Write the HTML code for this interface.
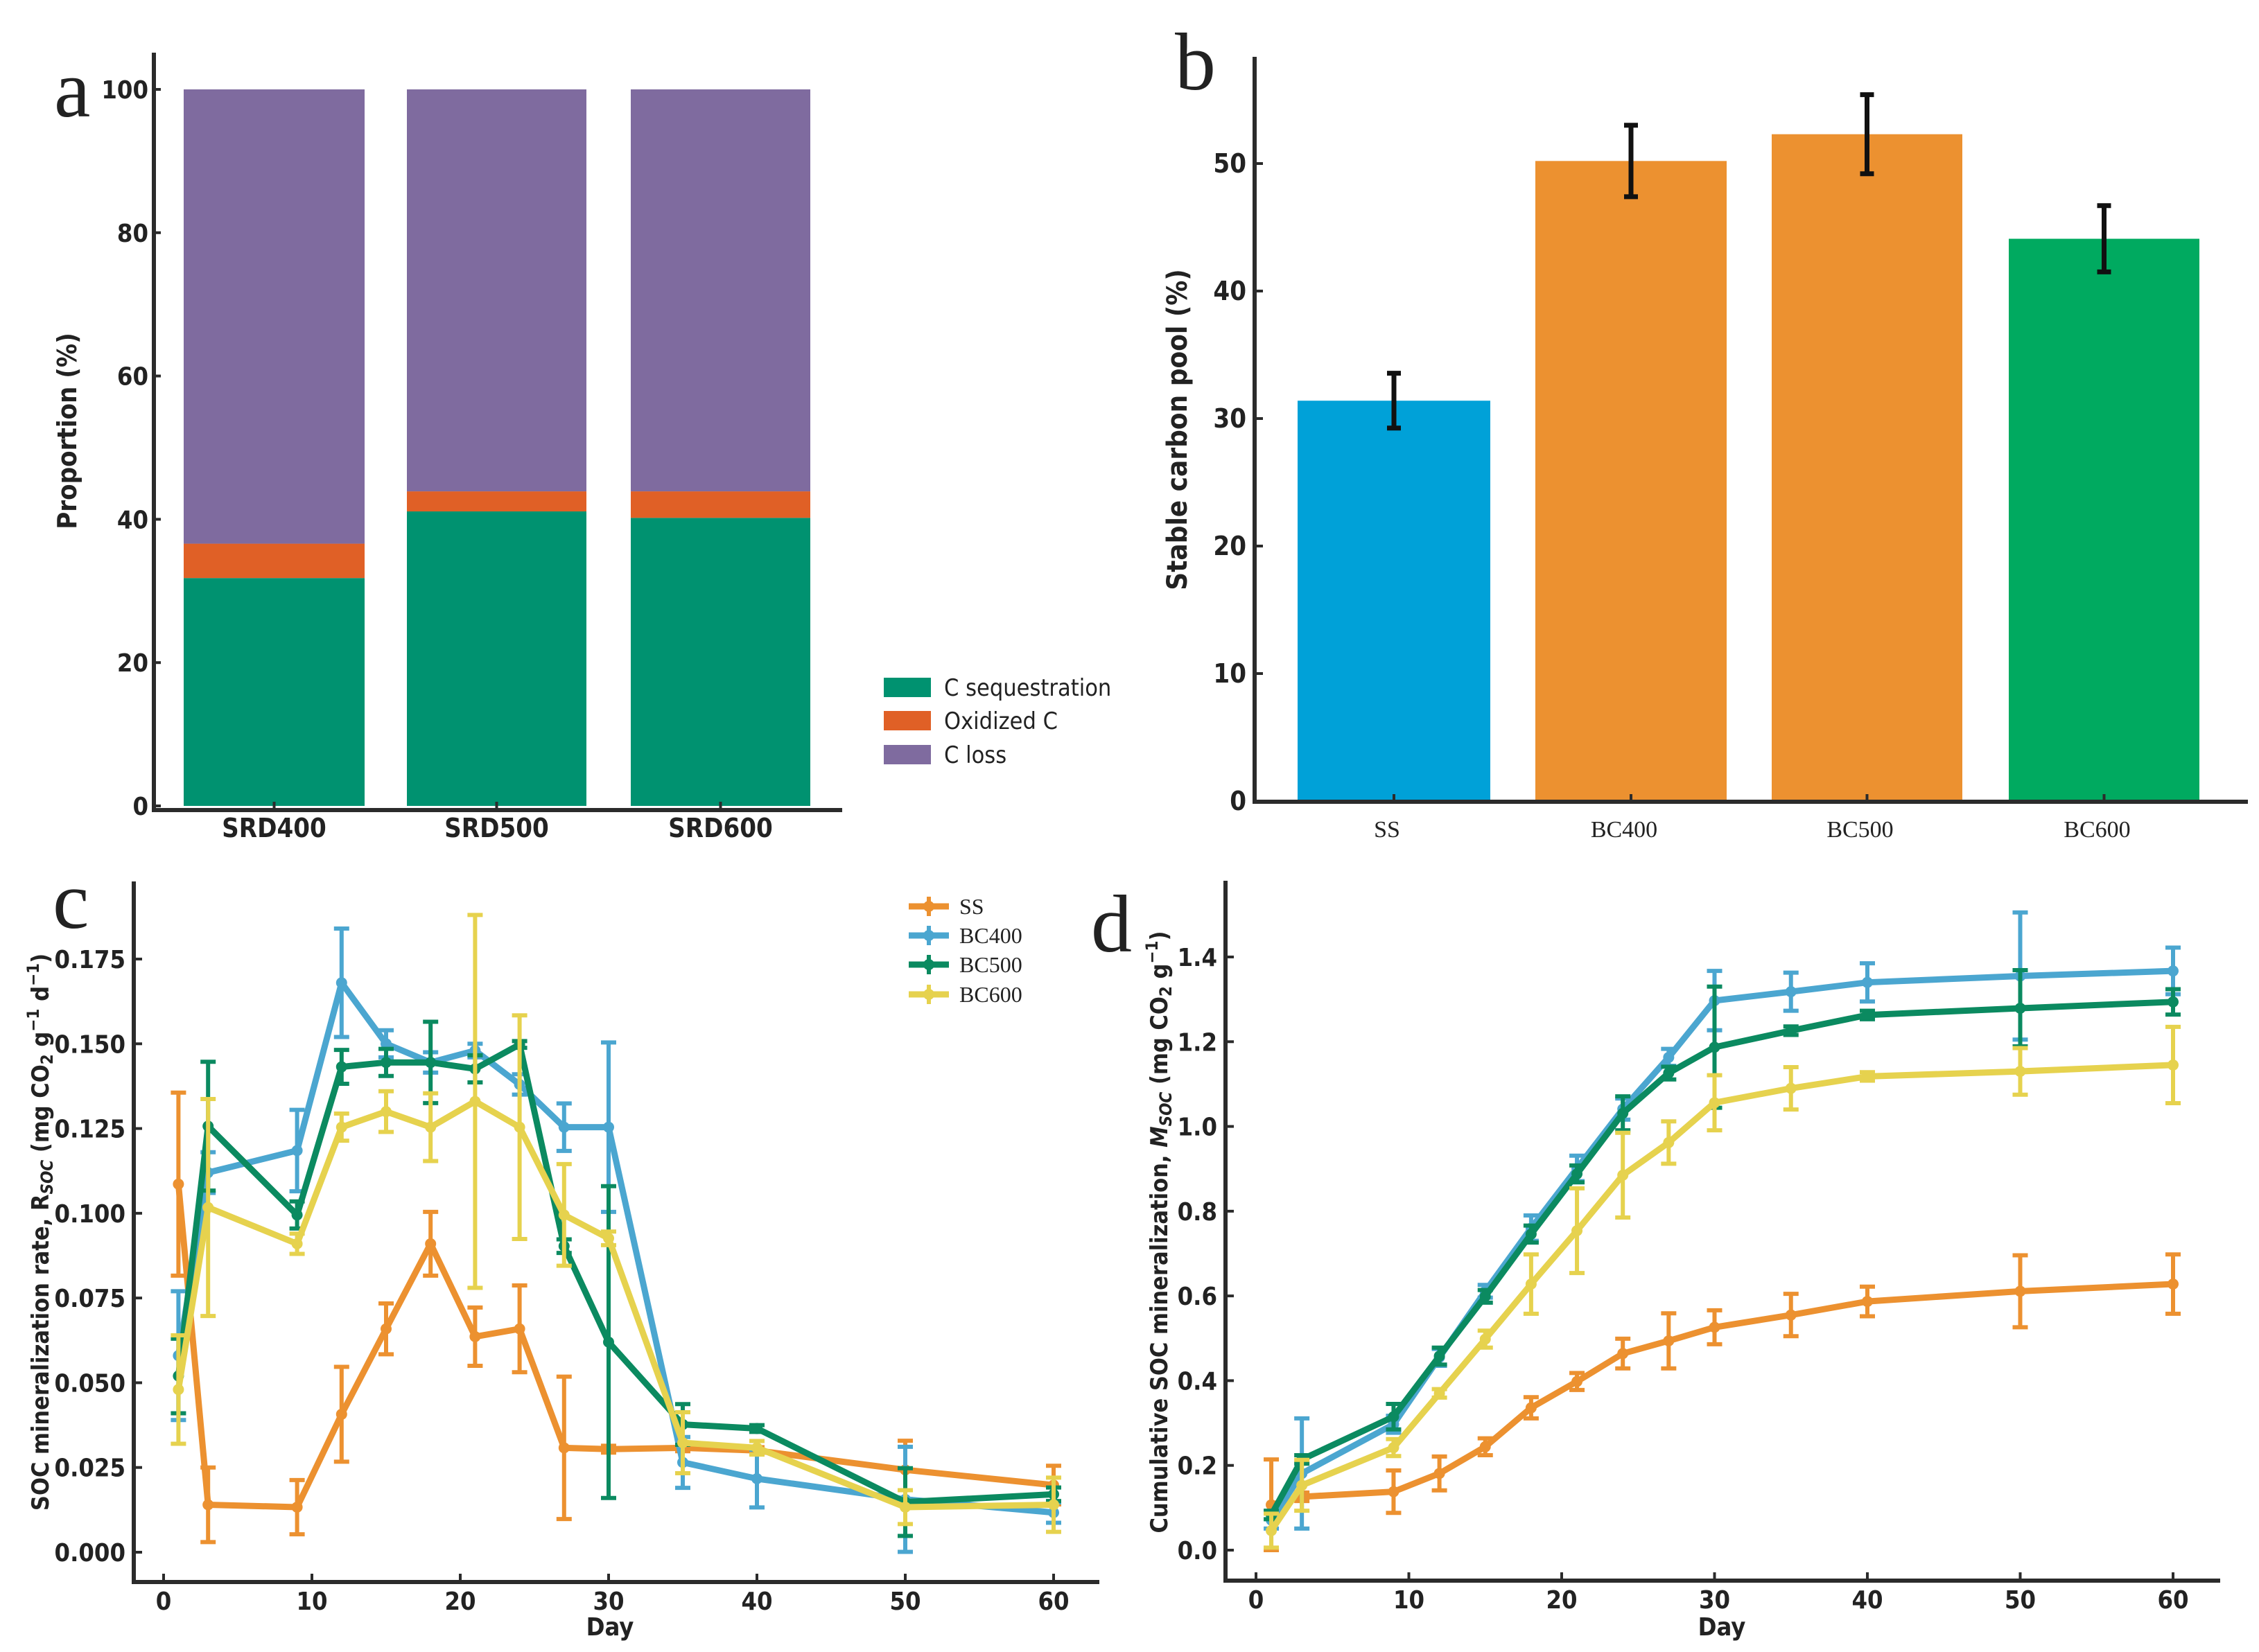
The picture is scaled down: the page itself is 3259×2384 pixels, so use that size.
<!DOCTYPE html>
<html><head><meta charset="utf-8">
<style>
html,body{margin:0;padding:0;background:#fff;}
svg{display:block;}
text{font-family:"DejaVu Sans Condensed","Liberation Sans Narrow","DejaVu Sans","Liberation Sans",sans-serif;fill:#222;}
.serif{font-family:"Liberation Serif",serif;}
</style></head>
<body>
<svg id="fig" width="3259" height="2384" viewBox="0 0 3259 2384" xmlns="http://www.w3.org/2000/svg"></svg>
<script>
// Panel a data
const aCats = ["SRD400","SRD500","SRD600"];
const aSeq = [31.8, 41.1, 40.2];
const aOx = [4.8, 2.8, 3.7];
const aLoss = [63.4, 56.1, 56.1];
const aTicks = [0,20,40,60,80,100];
// Panel b data
const bCats = ["SS","BC400","BC500","BC600"];
const bVals = [31.4, 50.2, 52.3, 44.1];
const bErr = [2.15, 2.8, 3.1, 2.6];
const bTicks = [0,10,20,30,40,50];
// Panel c/d shared days
const days = [1,3,9,12,15,18,21,24,27,30,35,40,50,60];
const xTicks = [0,10,20,30,40,50,60];
// Panel c
const cSS = [0.1086,0.014,0.0133,0.0407,0.0659,0.091,0.0636,0.0659,0.0308,0.0304,0.0308,0.030,0.0243,0.0198];
const cSSe = [0.027,0.011,0.008,0.014,0.0075,0.0094,0.0086,0.0128,0.021,0.001,0.001,0.001,0.0086,0.0057];
const cB4 = [0.058,0.112,0.1185,0.168,0.150,0.1445,0.148,0.138,0.1254,0.1254,0.0265,0.0217,0.0156,0.0117];
const cB4e = [0.019,0.006,0.012,0.016,0.004,0.003,0.002,0.003,0.007,0.025,0.0075,0.0085,0.0155,0.003];
const cB5 = [0.052,0.1257,0.0995,0.1432,0.1445,0.1445,0.1426,0.1498,0.0903,0.062,0.0377,0.0365,0.0148,0.0171];
const cB5e = [0.011,0.019,0.004,0.005,0.004,0.012,0.004,0.001,0.002,0.046,0.006,0.001,0.010,0.002];
const cB6 = [0.048,0.1017,0.091,0.1254,0.130,0.1254,0.133,0.1254,0.0995,0.0926,0.0323,0.0308,0.0133,0.014];
const cB6e = [0.016,0.032,0.003,0.004,0.006,0.010,0.055,0.033,0.015,0.002,0.009,0.002,0.005,0.008];
const cTicks = [0,0.025,0.05,0.075,0.1,0.125,0.15,0.175];
const cTickLabels = ["0.000","0.025","0.050","0.075","0.100","0.125","0.150","0.175"];
// Panel d
const dSS = [0.107,0.126,0.138,0.181,0.244,0.336,0.398,0.464,0.494,0.526,0.555,0.587,0.611,0.628];
const dSSe = [0.107,0.01,0.05,0.04,0.02,0.025,0.02,0.035,0.065,0.04,0.05,0.035,0.085,0.07];
const dB4 = [0.071,0.181,0.297,0.455,0.611,0.760,0.901,1.041,1.163,1.297,1.318,1.340,1.355,1.367];
const dB4e = [0.02,0.13,0.02,0.02,0.015,0.03,0.03,0.025,0.02,0.07,0.045,0.045,0.15,0.055];
const dB5 = [0.083,0.214,0.315,0.458,0.599,0.746,0.888,1.031,1.126,1.187,1.226,1.263,1.279,1.294];
const dB5e = [0.01,0.01,0.03,0.02,0.015,0.02,0.02,0.04,0.015,0.143,0.01,0.01,0.09,0.03];
const dB6 = [0.046,0.153,0.242,0.370,0.498,0.628,0.754,0.885,0.962,1.056,1.090,1.118,1.130,1.145];
const dB6e = [0.04,0.06,0.02,0.01,0.02,0.07,0.1,0.1,0.05,0.065,0.05,0.01,0.055,0.09];
const dTicks = [0,0.2,0.4,0.6,0.8,1.0,1.2,1.4];
const dTickLabels = ["0.0","0.2","0.4","0.6","0.8","1.0","1.2","1.4"];

const NS="http://www.w3.org/2000/svg";
const svg=document.getElementById('fig');
function mk(tag,attrs,parent,txt){const e=document.createElementNS(NS,tag);for(const k in attrs)e.setAttribute(k,attrs[k]);if(txt!==undefined)e.textContent=txt;(parent||svg).appendChild(e);return e;}
function grp(name){const g=mk('g',{});return g;}
function lin(d0,d1,r0,r1){return v=>r0+(v-d0)/(d1-d0)*(r1-r0);}
const AX='#2b2b2b';

// ---------- Panel a ----------
(function(){
  const g=grp('panel-a');
  const y=lin(0,100,1163,129);
  const xs=[[265,526],[587,846],[910,1169]];
  const cols=['#009270','#e06026','#7f6b9f'];
  aCats.forEach((c,i)=>{
    const [x0,x1]=xs[i];
    const segs=[aSeq[i],aOx[i],aLoss[i]];let base=0;
    segs.forEach((v,j)=>{
      const r=mk('rect',{x:x0,y:y(base+v),width:x1-x0,height:y(base)-y(base+v),fill:cols[j]},g);
      
      
      base+=v;
    });
    mk('line',{x1:(x0+x1)/2,x2:(x0+x1)/2,y1:1169,y2:1157,stroke:AX,'stroke-width':4},g);
    const t=mk('text',{x:(x0+x1)/2,y:1208,'font-size':38,'text-anchor':'middle','font-weight':'bold'},g,c);
    
  });
  aTicks.forEach(v=>{
    mk('line',{x1:222,x2:232,y1:y(v),y2:y(v),stroke:AX,'stroke-width':4},g);
    const t=mk('text',{x:214,y:y(v)+13,'font-size':36,'text-anchor':'end','font-weight':'bold'},g,v);
    
  });
  mk('line',{x1:222,x2:222,y1:76,y2:1172,stroke:AX,'stroke-width':6},g);
  mk('line',{x1:219,x2:1215,y1:1169,y2:1169,stroke:AX,'stroke-width':6},g);
  const yl=mk('text',{x:0,y:0,transform:'translate(110,622) rotate(-90)','font-size':38,'text-anchor':'middle','font-weight':'bold'},g,'Proportion (%)');
  
  const lab=mk('text',{x:78,y:168,'font-size':118,'class':'serif','fill':'#111'},g,'a');
  
  const names=['C sequestration','Oxidized C','C loss'];
  names.forEach((n,i)=>{
    const ly=[992,1040,1089][i];
    const r=mk('rect',{x:1275,y:ly-14,width:68,height:28,fill:cols[i]},g);
    
    const t=mk('text',{x:1362,y:ly+12,'font-size':34,fill:'#444'},g,n);
    
  });
})();

// ---------- Panel b ----------
(function(){
  const g=grp('panel-b');
  const y=lin(0,50,1156,236);
  const xs=[[1872,2150],[2215,2491],[2556,2831],[2898,3173]];
  const cols=['#00a1d8','#ec9130','#ec9130','#00aa60'];
  bCats.forEach((c,i)=>{
    const [x0,x1]=xs[i];const cx=(x0+x1)/2;
    const r=mk('rect',{x:x0,y:y(bVals[i]),width:x1-x0,height:y(0)-y(bVals[i]),fill:cols[i]},g);
    
    const e=mk('path',{d:`M${cx} ${y(bVals[i]+bErr[i])}V${y(bVals[i]-bErr[i])}M${cx-10} ${y(bVals[i]+bErr[i])}h20M${cx-10} ${y(bVals[i]-bErr[i])}h20`,stroke:'#111','stroke-width':7,fill:'none'},g);
    
    mk('line',{x1:cx,x2:cx,y1:1159,y2:1146,stroke:AX,'stroke-width':4},g);
    const t=mk('text',{x:cx-10,y:1208,'font-size':34,'text-anchor':'middle','class':'serif'},g,c);
    
  });
  bTicks.forEach(v=>{
    mk('line',{x1:1810,x2:1822,y1:y(v),y2:y(v),stroke:AX,'stroke-width':4},g);
    const t=mk('text',{x:1798,y:y(v)+13,'font-size':38,'text-anchor':'end','font-weight':'bold'},g,v);
    
  });
  mk('line',{x1:1810,x2:1810,y1:82,y2:1160,stroke:AX,'stroke-width':6},g);
  mk('line',{x1:1807,x2:3243,y1:1157,y2:1157,stroke:AX,'stroke-width':6},g);
  const yl=mk('text',{x:0,y:0,transform:'translate(1712,620) rotate(-90)','font-size':40,'text-anchor':'middle','font-weight':'bold'},g,'Stable carbon pool (%)');
  
  const lab=mk('text',{x:1695,y:129,'font-size':118,'class':'serif','fill':'#111'},g,'b');
  
})();

// ---------- Line panels ----------
const sCols=['#ec9130','#4ba6d0','#0b8a60','#e6d24e'];
function linePanel(name,opt,series,errs,ticks,tickLabels){
  const g=grp(name);
  const x=lin(0,60,opt.x0,opt.x60);
  const y=lin(ticks[0],ticks[ticks.length-1],opt.y0,opt.yTop);
  xTicks.forEach(v=>{
    mk('line',{x1:x(v),x2:x(v),y1:opt.axY,y2:opt.axY-12,stroke:AX,'stroke-width':4},g);
    const t=mk('text',{x:x(v),y:opt.axY+40,'font-size':36,'text-anchor':'middle','font-weight':'bold'},g,v);
    
  });
  ticks.forEach((v,i)=>{
    mk('line',{x1:opt.axX,x2:opt.axX+12,y1:y(v),y2:y(v),stroke:AX,'stroke-width':4},g);
    const t=mk('text',{x:opt.axX-12,y:y(v)+13,'font-size':36,'text-anchor':'end','font-weight':'bold'},g,tickLabels[i]);
    
  });
  const sNames=['ss','bc400','bc500','bc600'];
  series.forEach((s,k)=>{
    const sg=mk('g',{},g);
    
    let d='';
    s.forEach((v,i)=>{
      const cx=x(days[i]),hi=y(v+errs[k][i]),lo=y(v-errs[k][i]);
      const e=mk('path',{d:`M${cx} ${hi}V${lo}M${cx-11} ${hi}h22M${cx-11} ${lo}h22`,stroke:sCols[k],'stroke-width':6,fill:'none'},sg);
      
    });
    s.forEach((v,i)=>{d+=(i?'L':'M')+x(days[i])+' '+y(v);});
    const p=mk('path',{d:d,stroke:sCols[k],'stroke-width':9,fill:'none','stroke-linejoin':'round'},sg);
    
    s.forEach((v,i)=>{
      const c=mk('circle',{cx:x(days[i]),cy:y(v),r:8,fill:sCols[k]},sg);
      
    });
  });
  mk('line',{x1:opt.axX,x2:opt.axX,y1:opt.axTop,y2:opt.axY+3,stroke:AX,'stroke-width':6},g);
  mk('line',{x1:opt.axX-3,x2:opt.axR,y1:opt.axY,y2:opt.axY,stroke:AX,'stroke-width':6},g);
  const xl=mk('text',{x:opt.dayX,y:2360,'font-size':36,'text-anchor':'middle','font-weight':'bold'},g,'Day');
  
  return g;
}
const gc=linePanel('panel-c',{x0:236,x60:1520,y0:2240,yTop:1384,axX:193,axY:2283,axR:1586,axTop:1272,dayX:880},[cSS,cB4,cB5,cB6],[cSSe,cB4e,cB5e,cB6e],cTicks,cTickLabels);
const gd=linePanel('panel-d',{x0:1812,x60:3135,y0:2237,yTop:1381,axX:1768,axY:2281,axR:3203,axTop:1271,dayX:2484},[dSS,dB4,dB5,dB6],[dSSe,dB4e,dB5e,dB6e],dTicks,dTickLabels);
(function(){
  const yl=mk('text',{x:0,y:0,transform:'translate(70,1778) rotate(-90)','font-size':34,'text-anchor':'middle','font-weight':'bold'},gc);
  
  yl.innerHTML='SOC mineralization rate, R<tspan font-size="24" font-style="italic" dy="6">SOC</tspan><tspan dy="-6"> (mg CO</tspan><tspan font-size="24" dy="6">2</tspan><tspan dy="-6"> g</tspan><tspan font-size="24" dy="-14">−1</tspan><tspan dy="14"> d</tspan><tspan font-size="24" dy="-14">−1</tspan><tspan dy="14">)</tspan>';
  const yl2=mk('text',{x:0,y:0,transform:'translate(1684,1778) rotate(-90)','font-size':34,'text-anchor':'middle','font-weight':'bold'},gd);
  
  yl2.innerHTML='Cumulative SOC mineralization, <tspan font-style="italic">M</tspan><tspan font-size="24" font-style="italic" dy="6">SOC</tspan><tspan dy="-6"> (mg CO</tspan><tspan font-size="24" dy="6">2</tspan><tspan dy="-6"> g</tspan><tspan font-size="24" dy="-14">−1</tspan><tspan dy="14">)</tspan>';
  const lc=mk('text',{x:76,y:1339,'font-size':118,'class':'serif','fill':'#111'},gc,'c');
  
  const ld=mk('text',{x:1574,y:1373,'font-size':118,'class':'serif','fill':'#111'},gd,'d');
  
  const names=['SS','BC400','BC500','BC600'];
  names.forEach((n,i)=>{
    const ly=[1308,1350,1392,1435][i];
    const lg=mk('g',{},gc);
    
    mk('line',{x1:1311,x2:1369,y1:ly,y2:ly,stroke:sCols[i],'stroke-width':9},lg);
    mk('line',{x1:1340,x2:1340,y1:ly-14,y2:ly+14,stroke:sCols[i],'stroke-width':6},lg);
    mk('circle',{cx:1340,cy:ly,r:8,fill:sCols[i]},lg);
    mk('text',{x:1384,y:ly+11,'font-size':32,'class':'serif'},lg,n);
  });
})();
</script>
</body></html>
